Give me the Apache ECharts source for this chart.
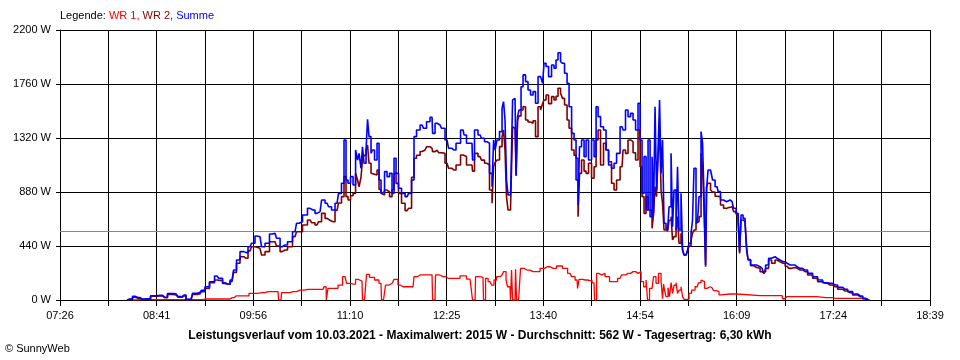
<!DOCTYPE html>
<html><head><meta charset="utf-8">
<script src="https://cdn.jsdelivr.net/npm/echarts@6/dist/echarts.min.js"></script>
<style>html,body{margin:0;padding:0;background:#fff}#c{width:960px;height:360px}</style>
</head><body><div id="c"></div>
<script>
// Axis range in minutes of the day: 07:26 .. 18:39
const axisStart = 446;
const axisEnd = 1119;
const xTickLabels = ['07:26','08:41','09:56','11:10','12:25','13:40','14:54','16:09','17:24','18:39'];
const yMax = 2200;
const yStep = 440;
const averageW = 562;
const titleText = 'Leistungsverlauf vom 10.03.2021 - Maximalwert: 2015 W - Durchschnitt: 562 W - Tagesertrag: 6,30 kWh';

// Sample times (minutes of day) for Summe and WR 2
const times = [
497.8,500.2,504.0,506.4,509.5,514.1,518.0,523.4,527.2,531.1,535.8,538.8,541.9,545.0,547.4,549.7,554.3,556.6,559.7,563.6,567.5,569.8,573.7,576.0,579.1,581.4,583.7,586.8,589.9,593.0,595.3,598.4,600.7,603.1,606.1,610.0,612.3,614.7,617.8,620.1,623.9,627.8,630.1,
631.7,635.5,639.4,641.7,644.8,647.2,649.5,652.6,654.9,657.2,660.3,662.6,664.9,666.5,668.0,669.6,671.9,673.5,675.8,676.6,678.1,679.6,680.4,682.0,683.5,684.3,685.8,687.4,688.1,690.5,692.0,693.6,695.1,695.9,698.2,699.8,702.1,703.6,705.2,706.7,709.0,711.4,714.5,716.8,719.1,720.6,723.0,726.1,728.4,730.7,733.8,734.6,737.7,740.0,742.3,745.4,747.7,750.8,753.9,757.8,759.3,761.6,764.7,765.5,767.8,770.9,
773.2,775.6,777.1,779.4,781.0,781.8,783.3,784.8,787.2,788.7,789.5,791.0,791.8,793.4,795.7,796.5,798.0,799.6,800.3,801.9,803.4,805.0,807.3,808.8,811.2,812.7,815.0,816.6,818.9,819.7,821.2,822.8,825.1,827.4,828.9,830.5,832.0,834.4,835.1,837.5,839.0,840.6,842.9,844.4,846.0,847.5,848.3,850.6,852.2,853.7,856.0,858.4,859.9,861.5,863.0,865.3,867.6,869.2,871.5,873.8,875.4,877.7,880.8,882.3,884.6,886.2,888.5,890.1,892.4,893.9,895.5,897.0,898.6,900.1,901.7,903.2,904.8,905.5,907.1,907.8,909.4,
910.2,911.7,912.5,914.0,915.6,916.4,917.9,919.5,920.2,921.8,923.3,924.1,925.6,927.2,928.0,929.5,931.1,931.8,933.4,934.9,935.7,937.2,938.8,939.6,941.1,942.7,943.4,945.0,945.8,946.5,948.1,950.4,951.2,954.3,955.8,958.1,960.5,962.8,965.9,968.2,969.8,971.3,972.1,973.6,975.2,976.7,977.5,979.0,981.4,983.7,986.0,989.1,990.7,993.0,995.3,997.6,1000.7,1003.0,1005.4,1008.5,1010.8,1013.1,1016.2,1018.5,1022.4,1026.3,1030.1,1034.0,1037.9,1041.7,1045.6,1049.5,1053.4,1057.2,1061.1,1065.0,1068.9,1071.2
];

const summeValues = [
0,8,30,20,8,10,35,38,22,52,50,28,40,5,5,55,62,80,108,149,196,177,141,128,163,244,326,394,386,434,462,521,516,434,462,538,543,503,434,448,475,556,625,
638,693,747,733,706,720,815,788,760,733,788,869,951,1304,978,951,1005,937,1222,1141,1195,1073,1249,1114,1222,1472,1331,1195,1222,1141,1277,978,869,883,1046,1005,1032,869,1155,1032,910,869,842,869,978,1331,1385,1426,1399,1453,1489,1358,1440,1426,1399,1304,1236,1222,1277,1385,1345,1277,1277,1141,1385,1345,
1318,1290,1277,1032,923,1304,1222,1304,1372,1562,1616,1467,978,856,869,1630,1643,1019,1494,1548,1738,1834,1779,1711,1670,1698,1603,1820,1834,1766,1929,1902,1820,1915,1888,1956,2015,1942,1929,1848,1766,1575,1358,1304,978,774,1249,1304,1168,1304,1141,1304,1168,1575,1494,1412,1385,1222,1100,1073,1114,1195,1412,1385,1548,1494,1521,1467,1385,1603,1304,869,1168,733,1304,679,1168,706,1575,896,1195,
1630,1032,1304,625,597,570,760,1195,597,896,570,1086,570,869,407,367,367,407,462,543,652,1073,625,652,842,1372,1277,842,285,896,1059,1046,978,923,883,815,801,815,801,747,706,652,394,693,665,625,434,326,285,285,271,258,231,285,340,353,340,326,312,299,285,285,271,258,244,217,190,163,141,136,122,103,87,68,49,33,14,0
];

const wr2Values = [
0,5,22,15,5,8,30,32,18,45,42,22,32,3,3,45,50,68,95,140,163,160,135,128,150,225,299,353,340,400,434,430,421,367,394,475,475,440,394,407,434,516,556,
556,611,652,630,611,638,706,665,650,638,730,790,842,1005,842,815,850,869,1032,978,923,1000,1141,1180,1222,1263,1114,1032,1025,1019,1059,900,869,856,896,880,842,900,1032,950,869,788,728,747,1000,1155,1180,1210,1222,1249,1236,1209,1222,1200,1195,1114,1073,1059,1100,1182,1170,1100,1100,1050,1195,1168,
1140,1114,1100,896,788,1086,1120,1141,1250,1330,1385,1222,842,733,760,1412,1399,1010,1467,1500,1548,1575,1467,1450,1440,1460,1331,1575,1548,1600,1630,1670,1600,1657,1630,1660,1725,1684,1643,1589,1467,1400,1222,1180,1155,679,1032,1141,1050,1032,1114,992,1086,1304,1385,1100,1277,1222,1127,951,896,978,1086,1222,1195,1304,1290,1200,1141,1385,1086,842,706,842,733,733,584,700,923,842,1168,
1385,896,788,570,590,560,650,679,489,516,570,679,462,543,407,367,367,400,440,489,543,570,625,640,679,1195,1086,733,271,923,951,896,880,845,842,774,747,755,760,720,700,679,380,652,640,625,407,330,280,265,258,231,215,258,326,299,326,312,300,275,258,265,258,245,231,204,177,149,136,122,108,87,73,60,41,27,8,0
];

// WR 1 has its own sample times (minutes of day)
const wr1Times = [
502.5,507.9,554.3,558.2,577.5,579.1,582.2,589.1,595.3,602.3,606.9,614.7,615.4,617.0,617.8,623.9,626.3,631.7,637.9,649.5,651.0,651.8,652.3,653.0,653.5,659.5,662.6,666.5,668.8,672.7,676.6,679.6,680.4,682.7,683.5,687.4,691.2,694.3,695.1,697.4,698.2,702.9,705.9,709.0,711.4,719.1,720.6,724.5,733.8,734.6,736.1,736.9,742.3,746.2,753.1,757.8,763.2,764.7,765.5,767.1,767.8,
773.2,774.0,774.8,775.6,778.7,781.0,782.5,784.8,787.9,790.3,791.8,792.6,794.1,794.9,795.7,796.5,798.0,798.8,799.6,801.9,802.6,807.3,811.9,815.8,818.9,822.8,827.4,832.8,836.7,840.6,842.9,846.0,846.7,848.3,852.2,856.0,859.1,859.9,860.7,861.5,863.8,866.1,869.2,873.0,875.4,879.2,881.6,885.4,889.3,893.2,894.7,896.3,898.6,900.1,900.9,901.7,902.4,904.0,906.3,907.8,
910.2,911.7,912.5,913.3,914.0,915.6,917.1,917.9,919.5,920.2,921.8,923.3,924.1,925.6,927.2,928.0,929.5,931.8,933.4,935.7,938.8,941.1,942.7,943.4,945.8,947.3,950.4,952.7,955.0,956.6,958.9,969.8,970.5,1004.6,1005.4,1007.7,1008.5,1031.6,1032.4,1044.0,1045.6,1065.0,1072.6
];
const wr1Values = [
0,3,3,8,8,19,33,33,54,60,68,68,0,0,60,60,68,81,87,87,108,108,0,0,95,95,122,190,136,130,168,155,0,0,209,185,163,136,0,0,122,136,168,122,108,108,190,204,204,0,0,204,190,177,177,196,170,163,0,0,190,
185,0,0,177,149,122,163,190,204,231,163,108,108,0,244,0,0,250,0,0,258,244,231,231,258,271,258,277,258,217,190,163,95,168,163,158,140,0,0,217,204,217,190,149,149,177,204,217,231,217,231,149,108,163,0,0,95,95,190,136,
217,149,10,130,81,27,100,27,141,54,120,141,54,81,108,27,5,5,54,81,108,141,163,150,95,108,100,76,68,41,49,49,35,35,10,10,27,27,19,19,14,14,0
];

const xStep = (axisEnd - axisStart) / 18;
const pairs = (ts, vs) => ts.map((t, i) => [t - axisStart, vs[i]]);

const chart = echarts.init(document.getElementById('c'), null, {renderer: 'canvas'});
const FONT = 'Liberation Sans, Arial, sans-serif';
chart.setOption({
  animation: false,
  backgroundColor: '#ffffff',
  grid: {left: 60, right: 30, top: 30, bottom: 60, containLabel: false},
  title: [{
    text: '{k|Legende: }{a|WR 1, }{b|WR 2, }{c|Summe}',
    left: 60, top: 10, padding: 0,
    textStyle: {
      fontWeight: 'normal',
      rich: {
        k: {color: '#000000', fontSize: 11, fontWeight: 'normal', fontFamily: FONT},
        a: {color: '#ff0000', fontSize: 11, fontWeight: 'normal', fontFamily: FONT},
        b: {color: '#800000', fontSize: 11, fontWeight: 'normal', fontFamily: FONT},
        c: {color: '#0000ff', fontSize: 11, fontWeight: 'normal', fontFamily: FONT}
      }
    }
  }, {
    text: titleText,
    left: 'center', top: 330, padding: 0,
    textStyle: {color: '#000', fontSize: 12, fontWeight: 'bold', fontFamily: FONT}
  }, {
    text: '© SunnyWeb',
    left: 5, top: 343, padding: 0,
    textStyle: {color: '#000', fontSize: 11, fontWeight: 'normal', fontFamily: FONT}
  }],
  xAxis: {
    type: 'value', min: 0, max: axisEnd - axisStart, interval: xStep,
    axisLine: {show: true, lineStyle: {color: '#000', width: 1}},
    axisTick: {show: true, length: 6, lineStyle: {color: '#000', width: 1}},
    splitLine: {show: true, lineStyle: {color: '#000', width: 1}},
    axisLabel: {
      show: true, interval: 0, margin: 10, color: '#000', fontSize: 11, fontFamily: FONT,
      showMinLabel: true, showMaxLabel: true,
      formatter: v => { const i = Math.round(v / xStep); return i % 2 === 0 ? (xTickLabels[i / 2] || '') : ''; }
    }
  },
  yAxis: {
    type: 'value', min: 0, max: yMax, interval: yStep,
    axisLine: {show: true, lineStyle: {color: '#000', width: 1}},
    axisTick: {show: true, length: 4, lineStyle: {color: '#000', width: 1}},
    splitLine: {show: true, lineStyle: {color: '#000', width: 1}},
    axisLabel: {margin: 9, color: '#000', fontSize: 11, fontFamily: FONT, formatter: v => String(Math.round(v)) + ' W'}
  },
  series: [{
    name: 'WR 1', type: 'line', step: 'middle', data: pairs(wr1Times, wr1Values),
    showSymbol: false, symbol: 'none', lineStyle: {color: '#ff0000', width: 1.3}, z: 3,
    markLine: {
      silent: true, symbol: 'none', label: {show: false},
      lineStyle: {color: '#888888', width: 1, type: 'solid'},
      data: [{yAxis: averageW}], z: 1
    }
  }, {
    name: 'WR 2', type: 'line', step: 'middle', data: pairs(times, wr2Values),
    showSymbol: false, symbol: 'none', lineStyle: {color: '#800000', width: 1.6}, z: 4
  }, {
    name: 'Summe', type: 'line', step: 'middle', data: pairs(times, summeValues),
    showSymbol: false, symbol: 'none', lineStyle: {color: '#0000ff', width: 1.6}, z: 5
  }]
});
</script>
</body></html>
